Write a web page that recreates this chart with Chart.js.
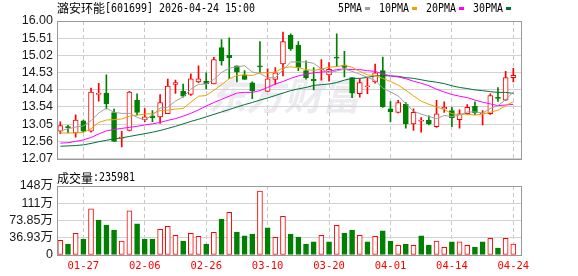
<!DOCTYPE html>
<html>
<head>
<meta charset="utf-8">
<script src="https://cdn.jsdelivr.net/npm/chart.js@4.4.0/dist/chart.umd.min.js"></script>
<style>
  html, body { margin: 0; padding: 0; background: #fff; }
  #wrap { position: relative; width: 578px; height: 276px; }
  #kBox { position: absolute; left: 0; top: 0; width: 578px; height: 170px; }
  #vBox { position: absolute; left: 0; top: 170px; width: 578px; height: 106px; }
</style>
</head>
<body>
<div id="wrap">
  <div id="kBox"><canvas id="kChart" width="578" height="170"></canvas></div>
  <div id="vBox"><canvas id="vChart" width="578" height="106"></canvas></div>
</div>
<script>
// 潞安环能 日K
const stockName = '潞安环能';
const stockInfo = '[601699] 2026-04-24 15:00';
const volTitle = '成交量';
const volLast = ':235981';
const maNames = ['5PMA', '10PMA', '20PMA', '30PMA'];
const maColors = ['#a0a0a0', '#f0a000', '#ff00ff', '#00703a'];

const dates = ['01-22','01-23','01-26','01-27','01-28','01-29','01-30','02-02','02-03','02-04',
  '02-05','02-06','02-09','02-10','02-11','02-12','02-13','02-24','02-25','02-26',
  '02-27','03-02','03-03','03-04','03-05','03-06','03-09','03-10','03-11','03-12',
  '03-13','03-16','03-17','03-18','03-19','03-20','03-23','03-24','03-25','03-26',
  '03-27','03-30','03-31','04-01','04-02','04-03','04-07','04-08','04-09','04-10',
  '04-13','04-14','04-15','04-16','04-17','04-20','04-21','04-22','04-23','04-24'];
const dateTicks = [4, 12, 20, 28, 36, 44, 52, 60];

const openP = [12.85,12.98,12.80,13.15,12.85,13.90,13.94,13.38,12.65,12.87,
  13.73,13.18,13.29,13.26,13.35,14.19,13.99,13.90,14.26,14.28,
  14.20,15.24,15.02,14.72,14.46,14.23,14.72,13.99,14.33,14.77,
  15.59,15.31,14.58,14.33,14.60,14.46,14.97,14.74,14.38,13.92,
  14.12,14.26,14.58,13.49,13.39,13.62,13.06,13.14,13.17,12.98,
  13.49,13.44,13.18,13.35,13.57,13.35,13.35,13.82,13.74,14.38];
const highP = [13.12,13.02,13.32,13.17,14.08,14.22,14.46,13.48,12.85,13.99,
  13.92,13.50,13.44,13.90,14.34,14.31,14.20,14.49,14.72,14.52,
  14.96,15.47,15.52,14.72,14.58,14.26,15.41,14.63,14.67,15.68,
  15.63,15.41,14.86,14.67,14.90,14.81,15.63,15.13,14.38,14.35,
  14.40,14.77,14.97,13.70,13.73,13.67,13.49,13.24,13.29,13.73,
  13.69,13.53,13.46,13.61,13.69,13.44,13.92,14.10,14.56,14.65];
const lowP = [12.78,12.80,12.68,12.82,12.82,13.71,13.49,12.56,12.40,12.86,
  13.31,13.12,13.12,13.07,13.35,13.93,13.82,13.87,14.24,14.06,
  14.20,14.74,14.35,14.26,14.33,13.78,14.52,13.99,14.19,14.43,
  15.16,14.58,14.34,14.03,14.31,14.28,14.70,14.40,13.81,13.82,
  13.92,14.22,13.53,13.12,13.37,12.94,12.87,12.82,13.03,12.96,
  13.39,12.98,12.94,13.33,13.32,13.03,13.33,13.70,13.73,14.26];
const closeP = [13.01,12.95,13.17,12.85,13.97,13.93,13.64,12.56,12.68,13.97,
  13.39,13.26,13.24,13.67,14.14,14.24,13.85,14.35,14.35,14.20,
  14.90,14.86,14.95,14.54,14.33,14.01,14.69,14.35,14.52,15.41,
  15.20,14.67,14.37,14.29,14.63,14.62,14.94,14.67,13.94,14.24,
  14.14,14.52,13.55,13.41,13.67,13.06,13.39,13.17,13.06,13.35,
  13.53,13.24,13.35,13.53,13.37,13.36,13.87,13.79,14.38,14.45];

const ma5 = [12.85,12.92,12.97,13.00,13.15,13.37,13.51,13.39,13.36,13.36,
  13.25,13.17,13.31,13.51,13.54,13.71,13.83,14.05,14.19,14.20,
  14.33,14.53,14.65,14.69,14.72,14.54,14.50,14.38,14.38,14.60,
  14.83,14.83,14.83,14.79,14.63,14.52,14.57,14.63,14.56,14.48,
  14.39,14.30,14.08,13.97,13.86,13.64,13.42,13.34,13.27,13.21,
  13.30,13.27,13.31,13.40,13.40,13.37,13.50,13.58,13.75,13.97];
const ma10 = [12.80,12.80,12.80,12.82,12.92,13.10,13.17,13.18,13.20,13.28,
  13.31,13.34,13.35,13.44,13.45,13.48,13.50,13.68,13.85,13.87,
  14.02,14.18,14.35,14.44,14.46,14.44,14.52,14.52,14.54,14.66,
  14.69,14.67,14.61,14.59,14.62,14.68,14.70,14.73,14.68,14.56,
  14.46,14.44,14.36,14.27,14.17,14.02,13.86,13.71,13.62,13.54,
  13.47,13.35,13.33,13.34,13.31,13.34,13.39,13.45,13.58,13.69];
const ma20 = [12.51,12.52,12.56,12.60,12.67,12.77,12.86,12.90,12.93,12.96,
  12.99,13.03,13.06,13.10,13.16,13.21,13.28,13.36,13.46,13.57,
  13.67,13.76,13.85,13.94,13.96,13.96,14.01,14.10,14.20,14.27,
  14.36,14.43,14.48,14.52,14.54,14.56,14.61,14.63,14.61,14.61,
  14.58,14.56,14.49,14.43,14.40,14.35,14.28,14.22,14.15,14.05,
  13.97,13.90,13.85,13.81,13.74,13.68,13.63,13.58,13.60,13.62];
const ma30 = [12.42,12.43,12.44,12.46,12.50,12.55,12.59,12.63,12.66,12.70,
  12.74,12.78,12.82,12.87,12.93,12.99,13.06,13.13,13.19,13.26,
  13.33,13.40,13.47,13.54,13.61,13.67,13.74,13.80,13.87,13.94,
  14.01,14.06,14.10,14.16,14.18,14.20,14.24,14.31,14.36,14.36,
  14.39,14.43,14.44,14.43,14.42,14.38,14.36,14.32,14.28,14.25,
  14.21,14.15,14.10,14.07,14.03,14.01,13.98,13.96,13.96,13.93];

// 成交量（万）
const volume = [31.5,23.6,46.5,34.3,98.7,75.0,64.0,53.6,30.0,94.4,
  66.5,34.3,34.3,55.0,61.5,42.0,30.0,46.5,40.0,23.6,
  48.6,77.0,91.5,49.0,41.0,45.0,136.6,58.0,38.0,83.0,
  45.0,38.6,23.6,28.0,42.0,28.0,63.6,47.0,53.6,42.0,
  28.0,40.0,51.5,30.0,20.7,23.6,20.7,40.8,21.5,30.0,
  16.4,28.0,28.0,20.7,17.0,28.0,35.8,15.0,35.8,23.6];
const volUp = [1,0,1,0,1,0,0,0,1,1, 0,0,0,1,1,1,0,1,1,0,
  1,0,1,0,0,0,1,0,1,1, 0,0,0,0,1,0,1,0,0,1,
  0,1,0,0,1,0,1,0,0,1, 1,0,1,1,0,0,1,0,1,1];

const priceTicks = [12.07, 12.561, 13.053, 13.544, 14.035, 14.526, 15.018, 15.509, 16.00];
const priceTickLabels = ['12.07','12.56','13.05','13.54','14.04','14.53','15.02','15.51','16.00'];
const volTicks = [0, 36.925, 73.85, 110.775, 147.7];
const volTickLabels = ['0','36.93万','73.85万','111万','148万'];

const RED = '#ff0000';
const GREEN = '#008000';
const X_MIN = 0.57, X_MAX = 61.13;

const pts = arr => arr.map((v, i) => ({ x: i + 1, y: v }));

const framePlugin = {
  id: 'frame',
  afterDraw(chart) {
    const { ctx, chartArea: a } = chart;
    ctx.save();
    ctx.strokeStyle = '#999';
    ctx.lineWidth = 1;
    ctx.strokeRect(Math.round(a.left) + 0.5, Math.round(a.top) + 0.5,
      Math.round(a.right - a.left) - 1, Math.round(a.bottom - a.top));
    ctx.restore();
  }
};

const xScale = (labels) => ({
  type: 'linear',
  offset: false,
  min: X_MIN,
  max: X_MAX,
  afterBuildTicks: s => { s.ticks = dateTicks.map(v => ({ value: v })); },
  afterFit: s => { s.height = labels ? 21 : 0; },
  grid: { color: '#c8c8c8', drawTicks: false, offset: false },
  border: { display: false, dash: [4, 3] },
  ticks: {
    display: labels,
    autoSkip: false,
    maxRotation: 0,
    padding: 5,
    color: RED,
    font: { family: 'DejaVu Sans Mono', size: 10.5 },
    callback: v => dates[v - 1]
  }
});

const yScale = (min, max, ticks, labels) => ({
  min, max,
  afterBuildTicks: s => { s.ticks = ticks.map(v => ({ value: v })); },
  afterFit: s => { s.width = 57; },
  grid: { color: '#d2d2d2', drawTicks: false },
  border: { display: false },
  ticks: {
    autoSkip: false,
    padding: 4,
    color: '#1a1a1a',
    font: { family: "'Liberation Sans', 'Noto Sans CJK SC'", size: 12.5 },
    callback: (v, i) => labels[i]
  }
});

// ---------- K线 ----------
const headPlugin = {
  id: 'head',
  beforeDraw(chart) {
    const ctx = chart.ctx;
    ctx.save();
    ctx.fillStyle = '#ebebf0';
    ctx.textBaseline = 'middle';
    ctx.font = 'italic bold 38px "Noto Sans CJK SC"';
    ctx.fillText('东方财富', 208, 96, 168);
    ctx.restore();
  },
  afterDraw(chart) {
    const ctx = chart.ctx;
    ctx.save();
    ctx.fillStyle = '#000';
    ctx.textBaseline = 'middle';
    ctx.font = '12px "Noto Sans CJK SC"';
    ctx.fillText(stockName, 57, 8.5);
    ctx.font = '12px "DejaVu Sans Mono"';
    ctx.fillText(stockInfo, 105, 8.5, stockInfo.length * 6);
    let x = 338;
    maNames.forEach((n, i) => {
      const w = n.length * 6;
      ctx.fillStyle = '#000';
      ctx.fillText(n, x, 8.5, w);
      ctx.fillStyle = maColors[i];
      ctx.fillRect(x + w + 3, 7, 5, 3);
      x += w + 3 + 5 + 9;
    });
    ctx.restore();
  }
};

const maSet = (label, data, color) => ({
  type: 'line', label, data: pts(data),
  borderColor: color, borderWidth: 1, pointRadius: 0, tension: 0, order: 0
});

new Chart(document.getElementById('kChart'), {
  data: {
    datasets: [
      maSet('MA5', ma5, maColors[0]),
      maSet('MA10', ma10, maColors[1]),
      maSet('MA20', ma20, maColors[2]),
      maSet('MA30', ma30, maColors[3]),
      {
        type: 'bar', label: 'body',
        data: openP.map((o, i) => ({ x: i + 1, y: [o, closeP[i]] })),
        backgroundColor: openP.map((o, i) => closeP[i] >= o ? '#fff' : GREEN),
        borderColor: openP.map((o, i) => closeP[i] >= o ? RED : GREEN),
        borderWidth: 1, borderSkipped: false, minBarLength: 1,
        barThickness: 5, grouped: false, order: 1
      },
      {
        type: 'bar', label: 'wick',
        data: lowP.map((l, i) => ({ x: i + 1, y: [l, highP[i]] })),
        backgroundColor: openP.map((o, i) => closeP[i] >= o ? RED : GREEN),
        barThickness: 1, grouped: false, order: 2
      }
    ]
  },
  options: {
    responsive: false,
    animation: false,
    layout: { padding: { top: 21, right: 56, bottom: 5, left: 0 } },
    plugins: { legend: { display: false }, tooltip: { enabled: false } },
    scales: {
      x: xScale(false),
      y: yScale(12.07, 16.00, priceTicks, priceTickLabels)
    }
  },
  plugins: [headPlugin, framePlugin]
});

// ---------- 成交量 ----------
const volHeadPlugin = {
  id: 'volHead',
  afterDraw(chart) {
    const ctx = chart.ctx;
    ctx.save();
    ctx.fillStyle = '#000';
    ctx.textBaseline = 'middle';
    ctx.font = '12px "Noto Sans CJK SC"';
    ctx.fillText(volTitle, 57, 8);
    ctx.font = '12px "DejaVu Sans Mono"';
    ctx.fillText(volLast, 93, 8, volLast.length * 6);
    ctx.restore();
  }
};

new Chart(document.getElementById('vChart'), {
  type: 'bar',
  data: {
    datasets: [{
      label: '成交量',
      data: pts(volume),
      backgroundColor: volUp.map(u => u ? '#fff' : GREEN),
      borderColor: volUp.map(u => u ? RED : GREEN),
      borderWidth: 1, borderSkipped: false,
      barThickness: 5, grouped: false
    }]
  },
  options: {
    responsive: false,
    animation: false,
    layout: { padding: { top: 16, right: 56, bottom: 0, left: 0 } },
    plugins: { legend: { display: false }, tooltip: { enabled: false } },
    scales: {
      x: xScale(true),
      y: yScale(0, 147.7, volTicks, volTickLabels)
    }
  },
  plugins: [volHeadPlugin, framePlugin]
});
</script>
</body>
</html>
